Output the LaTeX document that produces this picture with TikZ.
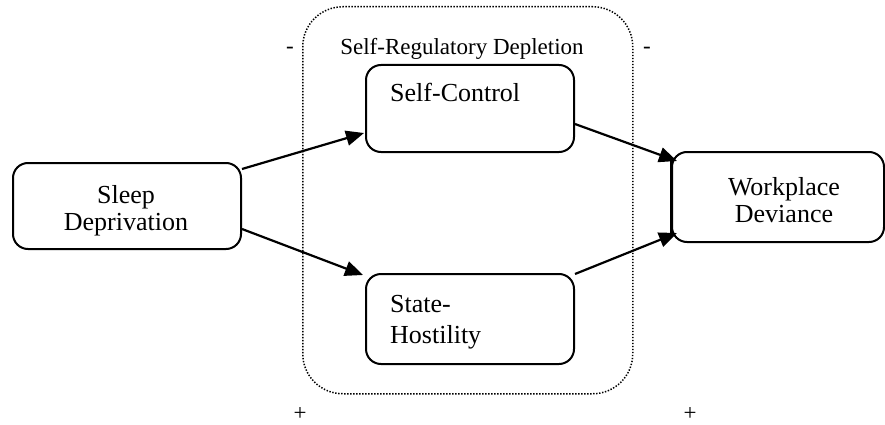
\documentclass[tikz,border=0pt]{standalone}
\usepackage{fontspec}
\setmainfont{Liberation Serif}
\usetikzlibrary{arrows.meta}
\begin{document}
\begin{tikzpicture}[x=1pt,y=-1pt,
  stagebox/.style={draw, line width=2pt, rounded corners=15pt, inner sep=0pt, anchor=north west},
  groupframe/.style={draw, line width=1.5pt, dash pattern=on 1.4pt off 1.6pt, rounded corners=40pt, inner sep=0pt, anchor=north west},
  big/.style={font=\fontsize{26}{29}\selectfont, inner sep=0pt},
  small/.style={font=\fontsize{23}{26}\selectfont, inner sep=0pt},
  link/.style={line width=2.2pt, -{Triangle[length=18pt,width=15pt]}}
]
\useasboundingbox (0,0) rectangle (885,425);

% dotted frame grouping the two mediators
\node[groupframe, minimum width=330pt, minimum height=387pt] (srd) at (302,6) {};
\node[small, anchor=base] (srdtxt) at (462,55) {Self-Regulatory Depletion};
\node[small] (minusL) at (290,50) {-};
\node[small] (minusR) at (647,50) {-};
\node[small] (plusL) at (300,413.5) {+};
\node[small] (plusR) at (690,413.5) {+};

% boxes
\node[stagebox, minimum width=228pt, minimum height=86pt] (sleep) at (12,162) {};
\node[big, anchor=base] (sleepA) at (126,203) {Sleep};
\node[big, anchor=base] (sleepB) at (126,230) {Deprivation};

\node[stagebox, minimum width=208pt, minimum height=87pt] (sc) at (365,64) {};
\node[big, anchor=base west] (sctxt) at (390,102) {Self-Control};

\node[stagebox, minimum width=208pt, minimum height=90pt] (sh) at (365,273) {};
\node[big, anchor=base west] (shA) at (390,312) {State-};
\node[big, anchor=base west] (shB) at (390,343) {Hostility};

\node[stagebox, minimum width=212pt, minimum height=90pt] (wd) at (671,151) {};
\node[big, anchor=base] (wdA) at (784,195) {Workplace};
\node[big, anchor=base] (wdB) at (784,222) {Deviance};

% paths
\draw[link] ([yshift=37pt]sleep.east) -- ([xshift=-1pt,yshift=-24.5pt]sc.west);
\draw[link] ([yshift=-23pt]sleep.east) -- ([xshift=-2pt,yshift=-2pt]sh.north west);
\draw[link] ([yshift=-15.5pt]sc.east) -- ([xshift=6pt,yshift=-10pt]wd.north west);
\draw[link] ([yshift=-1pt]sh.north east) -- ([xshift=6pt,yshift=10pt]wd.south west);
\draw[line width=2pt] ([yshift=-9pt]wd.north west) -- ([yshift=10pt]wd.south west);
\end{tikzpicture}
\end{document}
